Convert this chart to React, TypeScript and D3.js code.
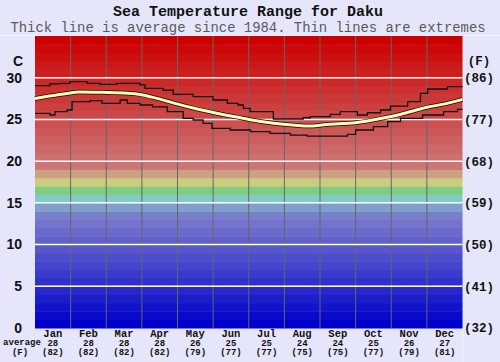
import * as d3 from "d3";
import React from "react";

const months = ["Jan", "Feb", "Mar", "Apr", "May", "Jun", "Jul", "Aug", "Sep", "Oct", "Nov", "Dec"];
const avgC = [28, 28, 28, 28, 26, 25, 25, 24, 24, 25, 26, 27];
const avgF = [82, 82, 82, 82, 79, 77, 77, 75, 75, 77, 79, 81];
const cTicks = [0, 5, 10, 15, 20, 25, 30];
const fTicks = [32, 41, 50, 59, 68, 77, 86];

// average since 1984 (month position, deg C)
const avgMonth = [0, 0.4, 0.8, 1.25, 1.9, 2.6, 2.95, 3.4, 3.9, 4.5, 5.1, 5.7, 6.0, 6.7, 7.3, 7.65, 8.2, 9.0, 9.7, 10.25, 11.0, 11.6, 12];
const avgTemp = [27.5, 27.8, 28.05, 28.3, 28.25, 28.15, 28.0, 27.55, 26.95, 26.3, 25.75, 25.25, 25.0, 24.55, 24.3, 24.2, 24.4, 24.6, 25.1, 25.6, 26.45, 26.95, 27.4];

// extremes, stepped
const maxMonth = [0, 0.42, 0.7, 0.98, 1.46, 1.83, 2.3, 2.95, 3.09, 3.6, 3.88, 4.44, 5.0, 5.4, 5.7, 5.85, 6.04, 6.69, 7.53, 7.73, 8.29, 8.57, 9.05, 9.33, 9.7, 9.98, 10.46, 10.82, 11.02, 11.58, 12];
const maxTemp = [29.05, 29.25, 29.33, 29.53, 29.33, 29.2, 29.33, 29.13, 28.73, 28.5, 28.0, 27.73, 27.33, 26.93, 26.73, 26.33, 25.93, 25.05, 25.2, 25.33, 25.6, 25.93, 25.53, 25.8, 26.13, 26.6, 27.13, 28.13, 28.65, 28.93, 28.93];
const minMonth = [0, 0.42, 0.56, 0.9, 1.04, 1.55, 1.88, 2.39, 2.59, 2.95, 3.3, 3.71, 4.16, 4.44, 4.72, 4.97, 5.48, 6.05, 6.6, 7.17, 7.64, 8.77, 9.0, 9.5, 9.9, 10.26, 10.88, 11.47, 11.86, 12];
const minTemp = [25.73, 25.53, 25.93, 26.13, 27.13, 27.25, 26.93, 27.33, 26.93, 26.73, 26.5, 25.93, 25.13, 24.93, 24.53, 23.93, 23.73, 23.53, 23.33, 23.13, 23.01, 23.21, 23.73, 24.13, 24.73, 25.13, 25.53, 25.93, 26.21, 26.21];

const W = 500;
const H = 362;
const mono = "'Liberation Mono', 'DejaVu Sans Mono', monospace";
const sans = "'Liberation Sans', Arial, sans-serif";

function bandColor(i: number) {
  if (i >= 20) {
    const v = Math.round((112 * (34 - i)) / 14);
    return d3.rgb(204, v, v).formatHex();
  }
  if (i === 19) return "#cc7777";
  if (i === 18) return "#cca080";
  if (i === 17) return "#cccc80";
  if (i === 16) return "#80cc80";
  if (i === 15) return "#80cccc";
  if (i === 14) return "#80a0cc";
  if (i === 13) return "#7880cc";
  const v = Math.round((116 * i) / 12);
  return d3.rgb(v, v, 204).formatHex();
}

export default function App() {
  const x = d3.scaleLinear().domain([0, 12]).range([35, 462.5]);
  const y = d3.scaleLinear().domain([0, 35]).range([328, 36]);

  const line = d3.line<[number, number]>().x((d) => x(d[0])).y((d) => y(d[1]));
  const avgPath = line.curve(d3.curveMonotoneX)(avgMonth.map((m, i) => [m, avgTemp[i]]));
  const stepLine = d3.line<[number, number]>().x((d) => x(d[0])).y((d) => y(d[1])).curve(d3.curveStepAfter);
  const maxPath = stepLine(maxMonth.map((m, i) => [m, maxTemp[i]]));
  const minPath = stepLine(minMonth.map((m, i) => [m, minTemp[i]]));

  const colW = x(1) - x(0);

  return (
    <svg width={W} height={H} style={{ position: "absolute", left: 0, top: 0 }}>
      <rect x={0} y={0} width={W} height={H} fill="#e6e6fa" />
      <text x={248} y={16} textAnchor="middle" fontFamily={mono} fontWeight="bold" fontSize={15} fill="#111">
        Sea Temperature Range for Daku
      </text>
      <text x={248} y={32} textAnchor="middle" fontFamily={mono} fontSize={13.9} fill="#5a5a5a">
        Thick line is average since 1984. Thin lines are extremes
      </text>
      <line x1={0} x2={W} y1={35.5} y2={35.5} stroke="#f4f4ff" />
      <line x1={462.5} x2={462.5} y1={328} y2={H} stroke="#f4f4ff" />

      {d3.range(35).map((i) => (
        <rect key={i} x={x(0)} y={y(i + 1)} width={x(12) - x(0)} height={y(i) - y(i + 1) + 0.5} fill={bandColor(i)} />
      ))}

      {d3.range(1, 12).map((m) => (
        <line key={m} x1={x(m)} x2={x(m)} y1={y(35)} y2={y(0)} stroke="#666" strokeWidth={1} />
      ))}

      {cTicks.filter((t) => t > 0).map((t) => (
        <line key={t} x1={x(0)} x2={x(12)} y1={y(t)} y2={y(t)} stroke="#ffffff" strokeWidth={1.5} />
      ))}

      <path d={maxPath || ""} fill="none" stroke="#111" strokeWidth={1.3} />
      <path d={minPath || ""} fill="none" stroke="#111" strokeWidth={1.3} />
      <path d={avgPath || ""} fill="none" stroke="#220000" strokeWidth={4.5} />
      <path d={avgPath || ""} fill="none" stroke="#ffffbb" strokeWidth={3} />

      <text x={18} y={y(32)} dy="0.35em" textAnchor="middle" fontFamily={sans} fontWeight="bold" fontSize={14} fill="#111">
        C
      </text>
      <text x={479} y={y(32)} dy="0.35em" textAnchor="middle" fontFamily={mono} fontWeight="bold" fontSize={12.5} fill="#111">
        (F)
      </text>
      {cTicks.map((t) => (
        <text key={t} x={22} y={y(t)} dy="0.35em" textAnchor="end" fontFamily={sans} fontWeight="bold" fontSize={14} fill="#111">
          {t}
        </text>
      ))}
      {fTicks.map((f, i) => (
        <text key={f} x={479} y={y(cTicks[i])} dy="0.35em" textAnchor="middle" fontFamily={mono} fontWeight="bold" fontSize={12.5} fill="#111">
          ({f})
        </text>
      ))}

      {months.map((m, i) => (
        <g key={m} transform={`translate(${x(i) + colW / 2},0)`} fontFamily={mono} fontWeight="bold" textAnchor="middle" fill="#111">
          <text y={336.5} fontSize={10.5}>{m}</text>
          <text y={346} fontSize={9}>{avgC[i]}</text>
          <text y={355} fontSize={9}>({avgF[i]})</text>
        </g>
      ))}
      <text x={22} y={345} textAnchor="middle" fontFamily={mono} fontWeight="bold" fontSize={9} fill="#111">
        average
      </text>
      <text x={20} y={355} textAnchor="middle" fontFamily={mono} fontWeight="bold" fontSize={9} fill="#111">
        (F)
      </text>
    </svg>
  );
}
